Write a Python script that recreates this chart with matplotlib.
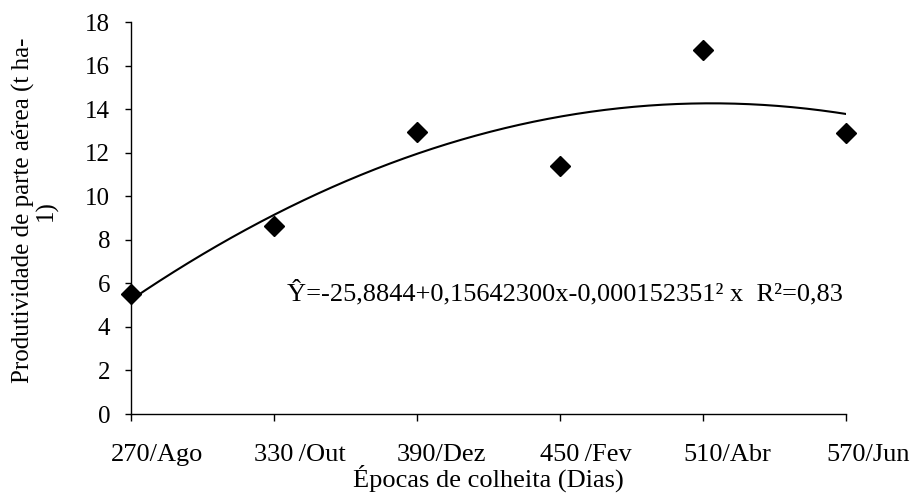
import numpy as np
from matplotlib import pyplot as plt
from matplotlib.transforms import ScaledTranslation

plt.rcParams['font.family'] = ['Liberation Serif', 'DejaVu Serif']

dias = [270, 330, 390, 450, 510, 570]
rotulos = ["270/Ago", "330\u2009/Out", "390/Dez", "450\u2009/Fev", "510/Abr", "570/Jun"]
produtividade = [5.5, 8.65, 12.95, 11.4, 16.7, 12.9]
# coeficientes da equacao ajustada (x^2, x, const)
coef = [-0.000152351, 0.15642300, -25.8844]

fig = plt.figure(figsize=(9.14, 4.96), dpi=100)
ax = fig.add_axes([0.1433, 0.1653, 0.7823, 0.7903])

xs = np.linspace(dias[0], dias[-1], 200)
ax.plot(xs, np.polyval(coef, xs), color="black", lw=1.5, zorder=2)
ax.plot(dias, produtividade, "D", color="black", markersize=10, zorder=3, clip_on=False)

ax.text(335.5, 5.2, "Ŷ=-25,8844+0,15642300x-0,000152351² x  R²=0,83",
        fontsize=19, va="baseline", ha="left")

ax.set_xlim(270, 570)
ax.set_ylim(0, 18)
ax.set_yticks(range(0, 19, 2))
ax.set_xticks(dias)
ax.set_xticklabels(rotulos)
ax.tick_params(axis="x", labelsize=19, direction="out", length=5, width=1, pad=16.5)
ax.tick_params(axis="y", labelsize=18, direction="out", length=4, width=1, pad=11)
# rotulos do eixo x ficam deslocados para a direita do tique
desl = ScaledTranslation(-0.20, 0, fig.dpi_scale_trans)
for lab in ax.get_xticklabels():
    lab.set_horizontalalignment("left")
    lab.set_transform(lab.get_transform() + desl)
for s in ["top", "right"]:
    ax.spines[s].set_visible(False)
for s in ["left", "bottom"]:
    ax.spines[s].set_linewidth(1)

ax.set_xlabel("Épocas de colheita (Dias)", fontsize=19)
ax.xaxis.set_label_coords(0.5, -0.128)
ax.set_ylabel("Produtividade de parte aérea (t ha-\n1)", fontsize=18, linespacing=1.0)
ax.yaxis.set_label_coords(-0.102, 0.52)

fig.savefig("out.png", dpi=100)
